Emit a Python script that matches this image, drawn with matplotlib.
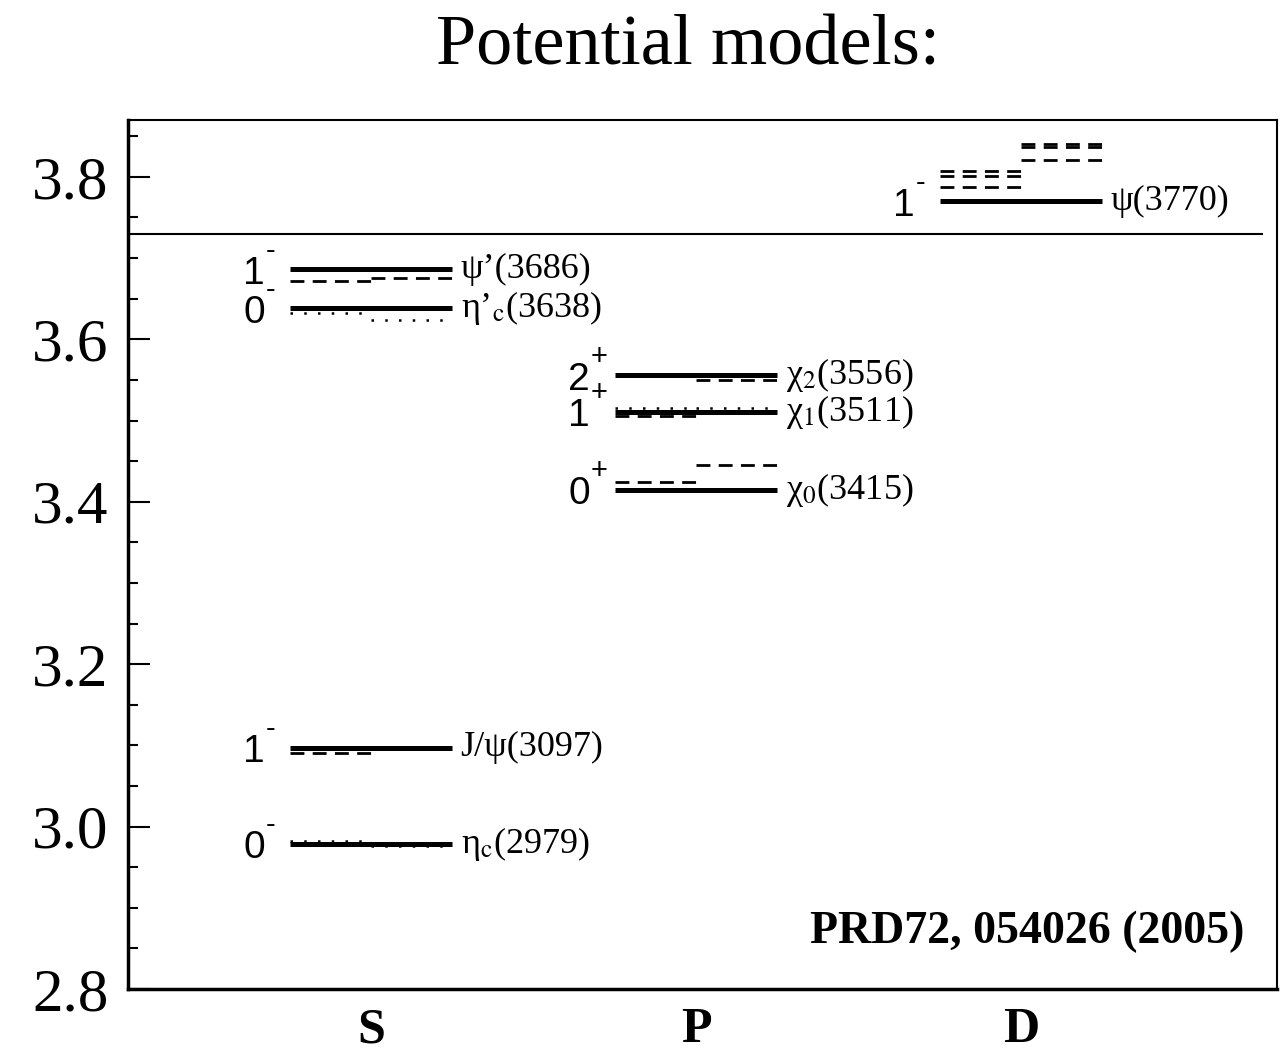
import matplotlib.pyplot as plt
from matplotlib.ticker import MultipleLocator

plt.rcParams['font.family'] = 'Liberation Serif'
plt.rcParams['mathtext.fontset'] = 'stix'

# columns on the x axis
waves = ['S', 'P', 'D']
wave_x = [1, 2, 3]

# observed states (solid lines), GeV
exp_wave = ['S', 'S', 'S', 'S', 'P', 'P', 'P', 'D']
exp_mass = [2.979, 3.097, 3.638, 3.686, 3.415, 3.511, 3.556, 3.770]
exp_num = ['0', '1', '0', '1', '0', '1', '2', '1']
exp_sign = ['-', '-', '-', '-', '+', '+', '+', '-']
exp_name = ['η$_{\\rm c}$(2979)', 'J/ψ(3097)', 'η’$_{\\rm c}$(3638)',
            'ψ’(3686)', 'χ$_0$(3415)', 'χ$_1$(3511)',
            'χ$_2$(3556)', 'ψ(3770)']

# model predictions: wave, half of the level (L/R), mass, line style
mod_wave = ['S', 'S', 'S', 'S', 'S', 'S', 'S',
            'P', 'P', 'P', 'P', 'P', 'P',
            'D', 'D', 'D', 'D', 'D', 'D']
mod_half = ['L', 'R', 'L', 'L', 'R', 'L', 'R',
            'L', 'R', 'L', 'L', 'R', 'R',
            'L', 'L', 'L', 'R', 'R', 'R']
mod_mass = [2.982, 2.976, 3.091, 3.633, 3.624, 3.672, 3.676,
            3.424, 3.445, 3.506, 3.515, 3.516, 3.550,
            3.807, 3.801, 3.787, 3.840, 3.837, 3.821]
mod_style = ['dot', 'dot', 'dash', 'dot', 'dot', 'dash', 'dash',
             'dash', 'dash', 'dash', 'dot', 'dot', 'dash',
             'dash', 'dash', 'dash', 'dash', 'dash', 'dash']

threshold = 3.730
half_w = 0.25

fig = plt.figure(figsize=(12.86, 10.53), dpi=100)
ax = fig.add_axes([0.0995, 0.0608, 0.8935, 0.8252])
ax.set_xlim(0.252, 3.788)
ax.set_ylim(2.8, 3.870)

xpos = dict(zip(waves, wave_x))

# model lines first so the solid ones sit on top
for w, h, m, s in zip(mod_wave, mod_half, mod_mass, mod_style):
    c = xpos[w]
    x0, x1 = (c - half_w, c) if h == 'L' else (c, c + half_w)
    if s == 'dash':
        ax.plot([x0, x1], [m, m], color='black', lw=2.0, ls=(0, (5, 3)),
                dash_capstyle='butt')
    else:
        ax.plot([x0, x1], [m, m], color='black', lw=1.8, ls=(0, (1, 4.5)),
                dash_capstyle='butt')

for w, m, n, sg, name in zip(exp_wave, exp_mass, exp_num, exp_sign, exp_name):
    c = xpos[w]
    ax.plot([c - half_w, c + half_w], [m, m], color='black', lw=3.6,
            solid_capstyle='butt')
    ax.annotate(n, (c - half_w, m), xytext=(-18, -10.5), textcoords='offset points',
                ha='right', va='baseline', fontsize=28, family='Liberation Sans')
    ax.annotate(sg, (c - half_w, m), xytext=(-17.5, 7.5), textcoords='offset points',
                ha='left', va='baseline', fontsize=21, family='Liberation Sans')
    ax.annotate(name, (c + half_w, m), xytext=(6, 0), textcoords='offset points',
                ha='left', va='center', fontsize=26)

ax.plot([0.252, 3.742], [threshold, threshold], color='black', lw=1.5)

ax.set_xticks(wave_x)
ax.set_xticklabels(waves, fontsize=36, fontweight='bold')
ax.tick_params(axis='x', length=0, pad=13)

ax.yaxis.set_minor_locator(MultipleLocator(0.05))
ax.set_yticks([2.8, 3.0, 3.2, 3.4, 3.6, 3.8])
ax.set_yticklabels(['2.8', '3.0', '3.2', '3.4', '3.6', '3.8'], fontsize=44)
ax.tick_params(axis='y', which='major', direction='in', length=16, width=1.5, pad=14)
ax.tick_params(axis='y', which='minor', direction='in', length=7, width=1.5)

for side in ['top', 'right']:
    ax.spines[side].set_linewidth(1.5)
ax.spines['left'].set_linewidth(2.5)
ax.spines['bottom'].set_linewidth(2.5)

ax.text(0.972, 0.0656, 'PRD72, 054026 (2005)', transform=ax.transAxes,
        ha='right', va='center', fontsize=33, fontweight='bold')

fig.text(0.535, 0.955, 'Potential models:', ha='center', va='center', fontsize=52)

fig.savefig('out.png', dpi=100)
